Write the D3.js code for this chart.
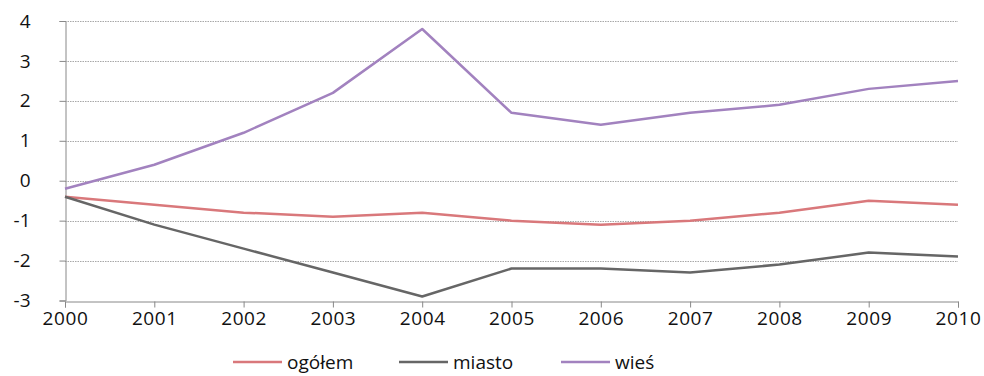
<!DOCTYPE html>
<html><head><meta charset="utf-8">
<script src="https://cdn.jsdelivr.net/npm/d3@7"></script>
<style>
body{margin:0;background:#fff;}
text{font-family:"Open Sans",sans-serif;fill:#111;}
</style></head><body>
<svg id="c" width="984" height="376"></svg>
<script>
const years = [2000,2001,2002,2003,2004,2005,2006,2007,2008,2009,2010];
const ogolem = [-0.4,-0.6,-0.8,-0.9,-0.8,-1.0,-1.1,-1.0,-0.8,-0.5,-0.6];
const miasto = [-0.4,-1.1,-1.7,-2.3,-2.9,-2.2,-2.2,-2.3,-2.1,-1.8,-1.9];
const wies = [-0.2,0.4,1.2,2.2,3.8,1.7,1.4,1.7,1.9,2.3,2.5];
const seriesNames = ["ogółem","miasto","wieś"];
const seriesColors = ["#d9787b","#666666","#a282bf"];
const yTicks = [-3,-2,-1,0,1,2,3,4];

const svg = d3.select("#c");
const x = d3.scaleLinear().domain([2000,2010]).range([65,958]);
const y = d3.scaleLinear().domain([-3,4]).range([300.5,21]);

// gridlines
svg.append("g").selectAll("line").data(yTicks.filter(d=>d>-3)).join("line")
  .attr("x1",65).attr("x2",958)
  .attr("y1",d=>Math.round(y(d))+0.5).attr("y2",d=>Math.round(y(d))+0.5)
  .attr("stroke","#a8a8a8").attr("stroke-width",1).attr("stroke-dasharray","1.5,1");

// y axis
const yAxis = svg.append("g").attr("transform","translate(65.5,0)")
  .call(d3.axisLeft(y).tickValues(yTicks).tickSize(6).tickPadding(29).tickFormat(d=>String(d)));
yAxis.select(".domain").attr("stroke","#888");
yAxis.selectAll(".tick line").attr("stroke","#888");
yAxis.selectAll("text").attr("font-size",19).style("font-family","'Open Sans',sans-serif").attr("fill","#111");

// x axis
const xAxis = svg.append("g").attr("transform",`translate(0,${Math.round(y(-3))+0.5})`)
  .call(d3.axisBottom(x).tickValues(years).tickSize(6).tickPadding(4).tickFormat(d=>String(d)));
xAxis.select(".domain").attr("stroke","#888");
xAxis.selectAll(".tick line").attr("stroke","#888");
xAxis.selectAll("text").attr("font-size",19).attr("letter-spacing","0.6px").style("font-family","'Open Sans',sans-serif").attr("fill","#111");

const data = [ogolem, miasto, wies];
const line = d3.line().x((d,i)=>x(years[i])).y(d=>y(d));
svg.append("g").selectAll("path").data(data).join("path")
  .attr("d",line).attr("fill","none")
  .attr("stroke",(d,i)=>seriesColors[i]).attr("stroke-width",2.5)
  .attr("stroke-linejoin","round");

// legend
const legX = [233,399,561];
const lg = svg.append("g").selectAll("g").data(seriesNames).join("g")
  .attr("transform",(d,i)=>`translate(${legX[i]},362)`);
lg.append("line").attr("x1",0).attr("x2",49).attr("y1",0).attr("y2",0)
  .attr("stroke",(d,i)=>seriesColors[i]).attr("stroke-width",2.5);
lg.append("text").attr("x",54).attr("y",0).attr("dy","0.35em")
  .attr("font-size",19).text(d=>d);
</script>
</body></html>
